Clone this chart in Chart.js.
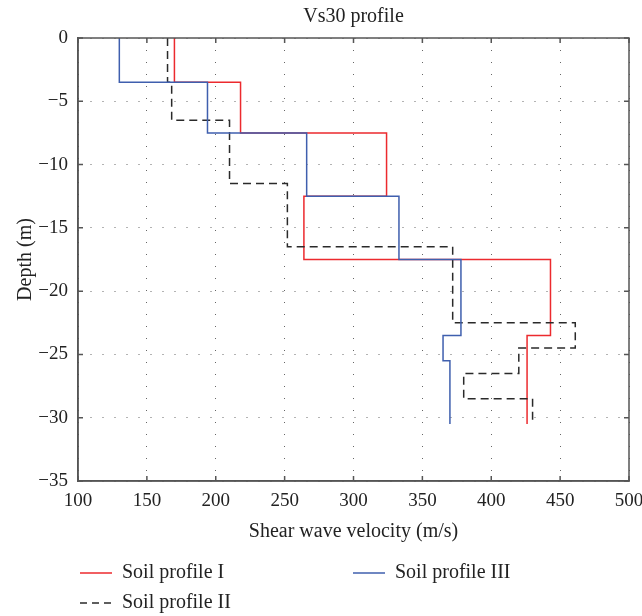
<!DOCTYPE html>
<html lang="en">
<head>
    <meta charset="UTF-8">
    <title>Vs30 profile</title>
    <script src="https://cdn.jsdelivr.net/npm/chart.js"></script>
    <style>
        body {
            margin: 0;
            background: #fff;
        }
    </style>
</head>
<body>
    <canvas id="vsChart" width="642" height="616"></canvas>

    <script>
        // Layer boundaries (m); each profile lists its layer tops and then the final bottom
        const depthsI = [0, -3.5, -7.5, -12.5, -17.5, -23.5, -30.5];
        const velocityI = [170, 218, 324, 264, 443, 426];

        const depthsII = [0, -3.5, -6.5, -11.5, -16.5, -22.5, -24.5, -26.5, -28.5, -30.5];
        const velocityII = [165, 168, 210, 252, 372, 461, 420, 380, 430];

        const depthsIII = [0, -3.5, -7.5, -12.5, -17.5, -23.5, -25.5, -30.5];
        const velocityIII = [130, 194, 266, 333, 378, 365, 370];

        const xTicks = [100, 150, 200, 250, 300, 350, 400, 450, 500];
        const yTicks = [0, -5, -10, -15, -20, -25, -30, -35];

        const serif = "'Liberation Serif', 'DejaVu Serif', serif";
        const frameColor = "#555";

        // turn layer velocities into a stepped outline (x = velocity, y = depth)
        function stepPoints(depths, velocities) {
            const pts = [];
            velocities.forEach((v, i) => {
                pts.push({ x: v, y: depths[i] });
                pts.push({ x: v, y: depths[i + 1] });
            });
            return pts;
        }

        // box around the plot, inward tick marks and the two-column legend
        const frameAndLegend = {
            id: "frameAndLegend",
            afterDraw(chart) {
                const { ctx, chartArea: a, scales: { x, y } } = chart;
                ctx.save();
                ctx.strokeStyle = frameColor;
                ctx.lineWidth = 1.5;
                ctx.setLineDash([]);
                ctx.strokeRect(a.left, a.top, a.right - a.left, a.bottom - a.top);

                ctx.beginPath();
                x.ticks.forEach(t => {
                    const px = x.getPixelForValue(t.value);
                    ctx.moveTo(px, a.bottom);
                    ctx.lineTo(px, a.bottom - 5);
                    ctx.moveTo(px, a.top);
                    ctx.lineTo(px, a.top + 5);
                });
                y.ticks.forEach(t => {
                    const py = y.getPixelForValue(t.value);
                    ctx.moveTo(a.left, py);
                    ctx.lineTo(a.left + 5, py);
                    ctx.moveTo(a.right, py);
                    ctx.lineTo(a.right - 5, py);
                });
                ctx.stroke();

                const items = [
                    { index: 0, x: 80, y: 573 },
                    { index: 2, x: 353, y: 573 },
                    { index: 1, x: 80, y: 603 }
                ];
                ctx.font = "20px " + serif;
                ctx.textBaseline = "middle";
                ctx.textAlign = "left";
                items.forEach(item => {
                    const ds = chart.data.datasets[item.index];
                    ctx.beginPath();
                    ctx.strokeStyle = ds.borderColor;
                    ctx.lineWidth = 1.5;
                    ctx.setLineDash(ds.borderDash ? [7, 5] : []);
                    ctx.moveTo(item.x, item.y);
                    ctx.lineTo(item.x + 32, item.y);
                    ctx.stroke();
                    ctx.fillStyle = "#222";
                    ctx.fillText(ds.label, item.x + 42, item.y);
                });
                ctx.restore();
            }
        };

        const minusSign = v => String(v).replace("-", "\u2212");

        new Chart(document.getElementById("vsChart"), {
            type: "scatter",
            data: {
                datasets: [
                    {
                        label: "Soil profile I",
                        data: stepPoints(depthsI, velocityI),
                        showLine: true,
                        borderColor: "#ec2a2e",
                        borderWidth: 1.5,
                        pointRadius: 0,
                        order: 2
                    },
                    {
                        label: "Soil profile II",
                        data: stepPoints(depthsII, velocityII),
                        showLine: true,
                        borderColor: "#2a2a2a",
                        borderWidth: 1.5,
                        borderDash: [8, 5],
                        pointRadius: 0,
                        order: 1
                    },
                    {
                        label: "Soil profile III",
                        data: stepPoints(depthsIII, velocityIII),
                        showLine: true,
                        borderColor: "#3f5fae",
                        borderWidth: 1.5,
                        pointRadius: 0,
                        order: 0
                    }
                ]
            },
            options: {
                responsive: false,
                animation: false,
                layout: {
                    padding: { top: 0, right: 13, bottom: 0, left: 0 }
                },
                plugins: {
                    legend: { display: false },
                    tooltip: { enabled: false },
                    title: {
                        display: true,
                        text: "Vs30 profile",
                        fullSize: false,
                        color: "#222",
                        font: { family: serif, size: 20, weight: "normal" },
                        padding: { top: 5, bottom: 9 }
                    }
                },
                scales: {
                    x: {
                        type: "linear",
                        min: xTicks[0],
                        max: xTicks[xTicks.length - 1],
                        afterBuildTicks: s => { s.ticks = xTicks.map(v => ({ value: v })); },
                        afterFit: s => {
                            s.height = 135;
                            s.paddingLeft = 0;
                            s.paddingRight = 0;
                        },
                        ticks: {
                            padding: 9,
                            color: "#222",
                            font: { family: serif, size: 19 },
                            callback: v => minusSign(v)
                        },
                        grid: { color: "#666", lineWidth: 1, drawTicks: false },
                        border: { color: frameColor, width: 1.5, dash: [1, 11] },
                        title: {
                            display: true,
                            text: "Shear wave velocity (m/s)",
                            color: "#222",
                            font: { family: serif, size: 20 },
                            padding: { top: 0, bottom: 72 }
                        }
                    },
                    y: {
                        type: "linear",
                        min: yTicks[yTicks.length - 1],
                        max: yTicks[0],
                        afterBuildTicks: s => { s.ticks = yTicks.slice().reverse().map(v => ({ value: v })); },
                        afterFit: s => {
                            s.width = 78;
                            s.paddingTop = 0;
                            s.paddingBottom = 0;
                        },
                        ticks: {
                            padding: 10,
                            color: "#222",
                            font: { family: serif, size: 19 },
                            callback: v => minusSign(v)
                        },
                        grid: { color: "#666", lineWidth: 1, drawTicks: false },
                        border: { color: frameColor, width: 1.5, dash: [1, 11] },
                        title: {
                            display: true,
                            text: "Depth (m)",
                            color: "#222",
                            font: { family: serif, size: 20 },
                            padding: { top: 14, bottom: 0 }
                        }
                    }
                }
            },
            plugins: [frameAndLegend]
        });
    </script>
</body>
</html>
